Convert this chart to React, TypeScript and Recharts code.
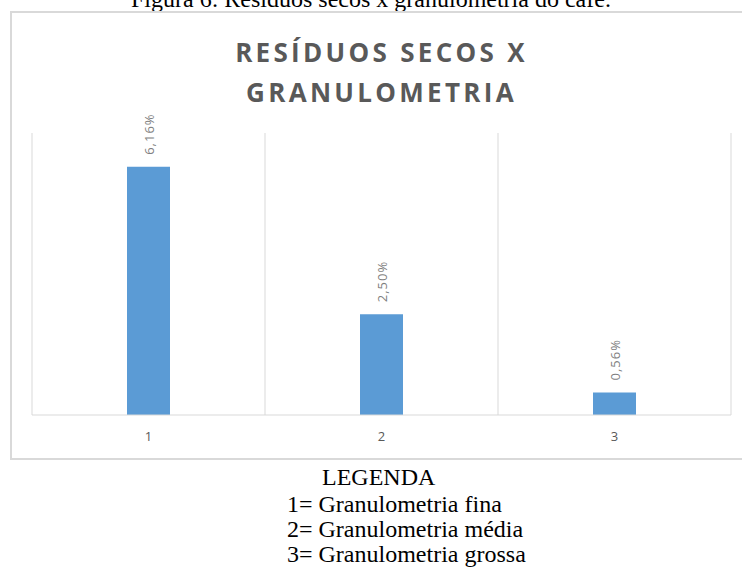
import { BarChart, Bar, XAxis, YAxis, CartesianGrid, LabelList } from "recharts";

const categories = ["1", "2", "3"];
const residuos = [6.16, 2.5, 0.56];

const caption = "Figura 6: Resíduos secos x granulometria do café.";
const titleLines = ["RESÍDUOS SECOS X", "GRANULOMETRIA"];
const legendLines = [
  "LEGENDA",
  "1= Granulometria fina",
  "2= Granulometria média",
  "3= Granulometria grossa",
];

const data = categories.map((c, i) => ({ cat: c, value: residuos[i] }));

const fmt = (v: number) => v.toFixed(2).replace(".", ",") + "%";

function RotatedLabel(props: any) {
  const { x, y, width, value } = props;
  const cx = x + width / 2 + 1;
  const cy = y - 12;
  return (
    <text
      x={cx}
      y={cy}
      transform={`rotate(-90, ${cx}, ${cy})`}
      textAnchor="start"
      dominantBaseline="central"
      fill="#7f7f7f"
      fontSize={13}
      letterSpacing={1}
      fontFamily="'Open Sans', sans-serif"
    >
      {fmt(value)}
    </text>
  );
}

const serif = "'Liberation Serif', 'Times New Roman', serif";
const legendTops = [465, 492, 517, 542];
const legendLeft = [322, 287, 287, 287];

export default function App() {
  return (
    <div
      style={{
        position: "absolute",
        left: 0,
        top: 0,
        width: 742,
        height: 581,
        overflow: "hidden",
        background: "#fff",
      }}
    >
      <div
        style={{
          position: "absolute",
          left: 131,
          top: -13,
          fontFamily: serif,
          fontSize: 24,
          lineHeight: "24px",
          whiteSpace: "nowrap",
          color: "#000",
        }}
      >
        {caption}
      </div>

      <div
        style={{
          position: "absolute",
          left: 10,
          top: 11,
          width: 745,
          height: 449,
          border: "2px solid #d9d9d9",
          boxSizing: "border-box",
        }}
      />

      <div style={{ position: "absolute", left: 10, top: 11 }}>
        <BarChart
          width={732}
          height={448}
          data={data}
          margin={{ top: 122, right: 11, bottom: 14, left: 22 }}
          barSize={43}
        >
          <CartesianGrid
            horizontal={false}
            stroke="#d9d9d9"
            verticalCoordinatesGenerator={({ offset }: any) =>
              [0, 1, 2, 3].map((i) => offset.left + (offset.width * i) / categories.length)
            }
          />
          <XAxis
            dataKey="cat"
            height={30}
            axisLine={{ stroke: "#d9d9d9" }}
            tickLine={false}
            tickSize={6}
            tickMargin={11}
            tick={{ fill: "#595959", fontSize: 13, fontFamily: "'Open Sans', sans-serif" }}
          />
          <YAxis hide domain={[0, 7]} />
          <Bar dataKey="value" fill="#5b9bd5" isAnimationActive={false}>
            <LabelList dataKey="value" content={<RotatedLabel />} />
          </Bar>
        </BarChart>
      </div>

      <div
        style={{
          position: "absolute",
          left: 10,
          top: 32,
          width: 743,
          textAlign: "center",
          fontFamily: "'Open Sans', sans-serif",
          fontWeight: 700,
          fontSize: 26,
          lineHeight: "40px",
          letterSpacing: 3.3,
          color: "#595959",
        }}
      >
        {titleLines.map((t) => (
          <div key={t}>{t}</div>
        ))}
      </div>

      {legendLines.map((t, i) => (
        <div
          key={t}
          style={{
            position: "absolute",
            left: legendLeft[i],
            top: legendTops[i],
            fontFamily: serif,
            fontSize: 24,
            lineHeight: "24px",
            whiteSpace: "nowrap",
            color: "#000",
          }}
        >
          {t}
        </div>
      ))}
    </div>
  );
}
